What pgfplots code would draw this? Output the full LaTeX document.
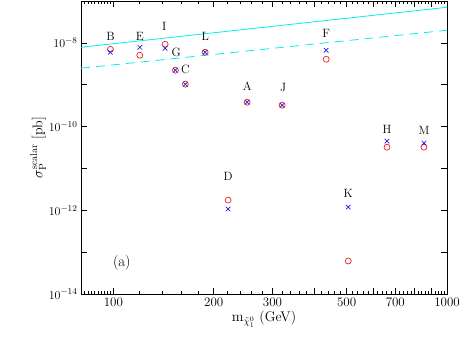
\documentclass[border=0pt]{standalone}
\usepackage{pgfplots}
\pgfplotsset{compat=1.18}

\definecolor{ptred}{RGB}{240,30,30}
\definecolor{ptblue}{RGB}{30,30,235}
\definecolor{ptcyan}{RGB}{0,240,240}

\begin{document}
\begin{tikzpicture}
\useasboundingbox (-81pt,-45pt) rectangle (382pt,294pt);
\begin{axis}[
    scale only axis,
    width=366pt, height=293pt,
    xmode=log, ymode=log,
    xmin=80, xmax=1000,
    ymin=1e-14, ymax=1e-7,
    xtick={100,200,300,400,500,600,700,800,900,1000},
    xticklabels={100,200,300,,500,,700,,,1000},
    minor xtick={82,84,86,88,90,92,94,96,98,120,140,160,180,220,240,260,280,320,340,360,380,420,440,460,480,520,540,560,580,620,640,660,680,720,740,760,780,820,840,860,880,920,940,960,980},
    ytick={1e-14,1e-13,1e-12,1e-11,1e-10,1e-9,1e-8,1e-7},
    yticklabels={$10^{-14}$,,$10^{-12}$,,$10^{-10}$,,$10^{-8}$,},
    yminorticks=false,
    tick align=inside,
    major tick length=6pt,
    minor tick length=3pt,
    axis line style={line width=1pt},
    tick style={black, line width=0.7pt},
    tick label style={font=\fontsize{13}{15}\selectfont},
    label style={font=\fontsize{14}{16}\selectfont},
    xlabel={$\mathrm{m}_{\tilde{\chi}^0_1}$ (GeV)},
    ylabel={$\sigma_{\mathrm{P}}^{\mathrm{scalar}}$ [pb]},
    xlabel style={yshift=2pt},
    ylabel style={yshift=-4pt},
    clip=false,
]
% cyan reference lines
\addplot[ptcyan, line width=0.8pt] coordinates {(80,7.85e-9) (1000,7.08e-8)};
\addplot[ptcyan, line width=0.8pt, dash pattern=on 9pt off 6pt] coordinates {(80,2.48e-9) (1000,2.0e-8)};

% red circles
\addplot[only marks, mark=o, mark size=3pt, ptred, line width=0.7pt] coordinates {
 (98,7.0e-9) (120,5.06e-9) (143,9.27e-9) (153.5,2.22e-9) (164.4,1.03e-9)
 (188.5,5.97e-9) (251.8,3.82e-10) (320.5,3.24e-10) (434.5,4.06e-9)
 (220.8,1.75e-12) (505.8,6.14e-14) (661,3.22e-11) (853,3.22e-11)
};
% blue crosses
\addplot[only marks, mark=x, mark size=3.2pt, ptblue, line width=0.7pt] coordinates {
 (98,5.97e-9) (120,7.85e-9) (143,7.43e-9) (153.5,2.22e-9) (164.4,1.03e-9)
 (188.5,5.97e-9) (251.8,3.82e-10) (320.5,3.24e-10) (434.5,6.65e-9)
 (220.8,1.07e-12) (505.8,1.19e-12) (661,4.49e-11) (853,4.02e-11)
};

% point labels
\begin{scope}[every node/.style={font=\fontsize{12}{14}\selectfont}]
\node at (axis cs:98,1.44e-8) {B};
\node at (axis cs:120,1.44e-8) {E};
\node at (axis cs:142,2.49e-8) {I};
\node at (axis cs:154.4,5.97e-9) {G};
\node at (axis cs:164.3,2.34e-9) {C};
\node at (axis cs:188.5,1.44e-8) {L};
\node at (axis cs:251.8,9.2e-10) {A};
\node at (axis cs:323,8.7e-10) {J};
\node at (axis cs:434.5,1.69e-8) {F};
\node at (axis cs:220.8,6.55e-12) {D};
\node at (axis cs:505.8,2.58e-12) {K};
\node at (axis cs:661,8.7e-11) {H};
\node at (axis cs:853,8.2e-11) {M};
\node[font=\fontsize{15}{17}\selectfont] at (axis cs:106,5.5e-14) {(a)};
\end{scope}
\end{axis}
\end{tikzpicture}
\end{document}
